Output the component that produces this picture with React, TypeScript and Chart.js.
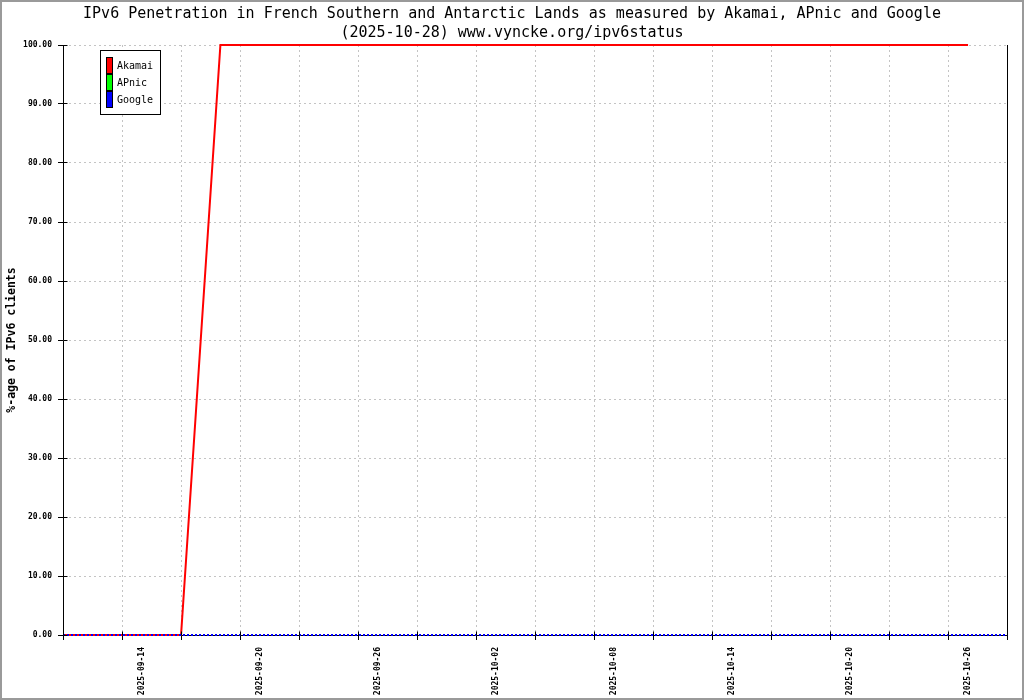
import React, { useEffect, useRef } from 'react';
import { Chart, registerables } from 'chart.js';

Chart.register(...registerables);

const titleLines: string[] = [
  'IPv6 Penetration in French Southern and Antarctic Lands as measured by Akamai, APnic and Google',
  '(2025-10-28) www.vyncke.org/ipv6status',
];
const yAxisTitle = '%-age of IPv6 clients';

const dates: string[] = [
  '2025-09-11', '2025-09-12', '2025-09-13', '2025-09-14', '2025-09-15', '2025-09-16', '2025-09-17',
  '2025-09-18', '2025-09-19', '2025-09-20', '2025-09-21', '2025-09-22', '2025-09-23', '2025-09-24',
  '2025-09-25', '2025-09-26', '2025-09-27', '2025-09-28', '2025-09-29', '2025-09-30', '2025-10-01',
  '2025-10-02', '2025-10-03', '2025-10-04', '2025-10-05', '2025-10-06', '2025-10-07', '2025-10-08',
  '2025-10-09', '2025-10-10', '2025-10-11', '2025-10-12', '2025-10-13', '2025-10-14', '2025-10-15',
  '2025-10-16', '2025-10-17', '2025-10-18', '2025-10-19', '2025-10-20', '2025-10-21', '2025-10-22',
  '2025-10-23', '2025-10-24', '2025-10-25', '2025-10-26', '2025-10-27', '2025-10-28', '2025-10-29',
];

// Labelled dates on the x axis
const xTickLabels: string[] = [
  '2025-09-14', '2025-09-20', '2025-09-26', '2025-10-02', '2025-10-08', '2025-10-14', '2025-10-20', '2025-10-26',
];

const akamaiValues: (number | null)[] = [
  0, 0, 0, 0, 0, 0, 0,
  null, 100, 100, 100, 100, 100, 100,
  100, 100, 100, 100, 100, 100, 100,
  100, 100, 100, 100, 100, 100, 100,
  100, 100, 100, 100, 100, 100, 100,
  100, 100, 100, 100, 100, 100, 100,
  100, 100, 100, 100, 100, null, null,
];

const apnicValues: (number | null)[] = [];

const googleValues: (number | null)[] = [
  0, 0, 0, 0, 0, 0, 0,
  0, 0, 0, 0, 0, 0, 0,
  0, 0, 0, 0, 0, 0, 0,
  0, 0, 0, 0, 0, 0, 0,
  0, 0, 0, 0, 0, 0, 0,
  0, 0, 0, 0, 0, 0, 0,
  0, 0, 0, 0, 0, 0, 0,
];

const yTickValues: number[] = [0, 10, 20, 30, 40, 50, 60, 70, 80, 90, 100];

const MONO = '"DejaVu Sans Mono", "Liberation Mono", monospace';

const decorPlugin = {
  id: 'decor',
  beforeDraw(chart: any) {
    const ctx = chart.ctx;
    ctx.save();
    ctx.fillStyle = '#ffffff';
    ctx.fillRect(0, 0, chart.width, chart.height);
    ctx.restore();
  },
  afterDraw(chart: any) {
    const ctx = chart.ctx;
    const area = chart.chartArea;
    const xs = chart.scales.x;
    const ys = chart.scales.y;
    const al = (p: number) => Math.round(p - 0.5) + 0.5;
    ctx.save();

    // outer frame
    ctx.strokeStyle = '#9a9a9a';
    ctx.lineWidth = 2;
    ctx.strokeRect(1, 1, chart.width - 2, chart.height - 2);

    // title
    ctx.fillStyle = '#000';
    ctx.font = `15px ${MONO}`;
    ctx.textAlign = 'center';
    ctx.textBaseline = 'middle';
    ctx.fillText(titleLines[0], 512, 14);
    ctx.fillText(titleLines[1], 512, 33);

    // y axis title
    ctx.save();
    ctx.translate(12, 340);
    ctx.rotate(-Math.PI / 2);
    ctx.font = `bold 11.5px ${MONO}`;
    ctx.fillText(yAxisTitle, 0, 0);
    ctx.restore();

    // right border
    ctx.strokeStyle = '#000';
    ctx.lineWidth = 1;
    const rx = al(xs.getPixelForValue(dates.length - 1));
    ctx.beginPath();
    ctx.moveTo(rx, area.top);
    ctx.lineTo(rx, area.bottom);
    ctx.stroke();

    // inner tick marks
    const lx = al(area.left);
    yTickValues.forEach((v) => {
      const y = al(ys.getPixelForValue(v));
      ctx.beginPath();
      ctx.moveTo(lx, y);
      ctx.lineTo(lx + 4, y);
      ctx.stroke();
    });
    const by = al(area.bottom);
    dates.forEach((_d, i) => {
      if (i % 3 !== 0) return;
      const x = al(xs.getPixelForValue(i));
      ctx.beginPath();
      ctx.moveTo(x, by);
      ctx.lineTo(x, by - 4);
      ctx.stroke();
    });

    // legend
    ctx.strokeStyle = '#000';
    ctx.lineWidth = 1;
    ctx.fillStyle = '#fff';
    ctx.fillRect(100, 50, 60, 64);
    ctx.strokeRect(100.5, 50.5, 60, 64);
    ctx.font = `10px ${MONO}`;
    ctx.textAlign = 'left';
    ctx.textBaseline = 'middle';
    chart.data.datasets.forEach((ds: any, i: number) => {
      const top = 57 + i * 17;
      ctx.fillStyle = ds.borderColor;
      ctx.fillRect(106, top, 6, 16);
      ctx.strokeRect(106.5, top + 0.5, 6, 16);
      ctx.fillStyle = '#000';
      ctx.fillText(ds.label, 117, top + 9.5);
    });

    ctx.restore();
  },
};

export default function App() {
  const canvasRef = useRef<HTMLCanvasElement | null>(null);

  useEffect(() => {
    const canvas = canvasRef.current;
    if (!canvas) return;
    const tickFont = { family: MONO, size: 8, weight: 'bold' as const };
    const chart = new Chart(canvas, {
      type: 'line',
      data: {
        labels: dates,
        datasets: [
          {
            label: 'Akamai',
            data: akamaiValues,
            borderColor: '#ff0000',
            backgroundColor: '#ff0000',
            borderWidth: 2,
            pointRadius: 0,
            spanGaps: true,
            tension: 0,
            order: 2,
            clip: false,
          },
          {
            label: 'APnic',
            data: apnicValues,
            borderColor: '#00ff00',
            backgroundColor: '#00ff00',
            borderWidth: 2,
            pointRadius: 0,
            order: 1,
            clip: false,
          },
          {
            label: 'Google',
            data: googleValues,
            borderColor: '#0000ff',
            backgroundColor: '#0000ff',
            borderWidth: 2,
            borderDash: [2, 2],
            borderCapStyle: 'butt',
            pointRadius: 0,
            order: 0,
            clip: false,
          },
        ],
      },
      options: {
        responsive: false,
        animation: false,
        devicePixelRatio: 1,
        layout: { padding: { top: 45, right: 15, left: 0, bottom: 0 } },
        plugins: {
          legend: { display: false },
          title: { display: false },
          tooltip: { enabled: false },
        },
        scales: {
          x: {
            type: 'category',
            offset: false,
            afterFit: (s: any) => {
              s.height = 65;
            },
            grid: {
              color: (c: any) => (c.index % 3 === 0 && c.index !== 0 ? '#c4c4c4' : 'rgba(0,0,0,0)'),
              tickColor: (c: any) => (c.index % 3 === 0 ? '#000' : 'rgba(0,0,0,0)'),
              tickLength: 5,
              lineWidth: 1,
            },
            border: { color: '#000', width: 1, dash: [2, 3] },
            ticks: {
              autoSkip: false,
              maxRotation: 90,
              minRotation: 90,
              labelOffset: 20,
              padding: 7,
              color: '#000',
              font: tickFont,
              callback: (_v: any, i: number) => (xTickLabels.includes(dates[i]) ? dates[i] : ''),
            },
          },
          y: {
            min: 0,
            max: 100,
            afterFit: (s: any) => {
              s.width = 63;
            },
            grid: {
              color: (c: any) => (c.tick && c.tick.value === 0 ? 'rgba(0,0,0,0)' : '#c4c4c4'),
              tickColor: '#000',
              tickLength: 5,
              lineWidth: 1,
            },
            border: { color: '#000', width: 1, dash: [2, 3] },
            afterBuildTicks: (s: any) => {
              s.ticks = yTickValues.map((v) => ({ value: v }));
            },
            ticks: {
              padding: 6,
              color: '#000',
              font: tickFont,
              callback: (v: any) => Number(v).toFixed(2),
            },
          },
        },
      },
      plugins: [decorPlugin],
    } as any);
    return () => chart.destroy();
  }, []);

  return (
    <div style={{ position: 'absolute', left: 0, top: 0, width: 1024, height: 700 }}>
      <canvas ref={canvasRef} width={1024} height={700} style={{ display: 'block', width: 1024, height: 700 }} />
    </div>
  );
}
